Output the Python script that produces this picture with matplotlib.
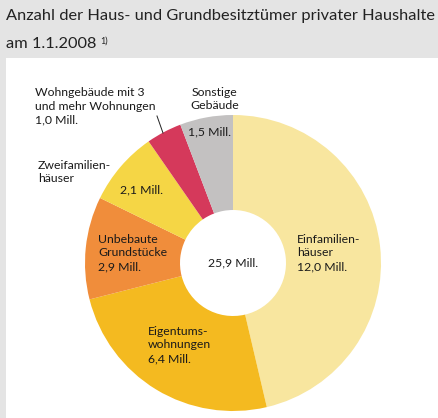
import matplotlib.pyplot as plt
from matplotlib.patches import Rectangle

# data (Mill.)
names = ['Einfamilien-\nhäuser', 'Eigentums-\nwohnungen', 'Unbebaute\nGrundstücke',
         'Zweifamilien-\nhäuser', 'Wohngebäude mit 3\nund mehr Wohnungen', 'Sonstige\nGebäude']
values = [12.0, 6.4, 2.9, 2.1, 1.0, 1.5]
value_labels = ['12,0 Mill.', '6,4 Mill.', '2,9 Mill.', '2,1 Mill.', '1,0 Mill.', '1,5 Mill.']
total_label = '25,9 Mill.'
colors = ['#f8e69f', '#f4ba20', '#f08d3b', '#f5d645', '#d5395b', '#c3c1c1']

plt.rcParams['font.family'] = ['Lato', 'DejaVu Sans']

W, H = 439, 418
fig = plt.figure(figsize=(W / 100, H / 100), dpi=100, facecolor='#e4e4e4')
ax = fig.add_axes([0, 0, 1, 1])

ax.add_patch(Rectangle((6, 58), W - 6, H - 58, facecolor='white', edgecolor='none', zorder=0))

# y axis is flipped, so counterclock in data space looks clockwise on screen
ax.pie(values, colors=colors, startangle=-90, counterclock=True,
       center=(233, 263), radius=148, frame=True,
       wedgeprops=dict(width=95, linewidth=0))
ax.set_xlim(0, W)
ax.set_ylim(H, 0)
ax.axis('off')

# title
ax.text(6, 20, 'Anzahl der Haus- und Grundbesitztümer privater Haushalte',
        fontsize=11.8, color='#222222', va='baseline')
am = ax.text(6, 48, 'am 1.1.2008', fontsize=11.8, color='#222222', va='baseline')
ax.annotate('1)', xy=(1, 0), xycoords=am, xytext=(3, 4), textcoords='offset points',
            fontsize=6.5, color='#222222', va='bottom', ha='left')

fs = 8.8
tc = '#1a1a1a'
ls = 1.3
ax.text(297, 253, names[0] + '\n' + value_labels[0], fontsize=fs, color=tc,
        va='center', ha='left', linespacing=ls)
ax.text(148, 345, names[1] + '\n' + value_labels[1], fontsize=fs, color=tc,
        va='center', ha='left', linespacing=ls)
ax.text(98, 253, names[2] + '\n' + value_labels[2], fontsize=fs, color=tc,
        va='center', ha='left', linespacing=ls)
ax.text(38, 172, names[3], fontsize=fs, color=tc, va='center', ha='left', linespacing=ls)
ax.text(120, 190, value_labels[3], fontsize=fs, color=tc, va='center', ha='left')
ax.text(35, 106, names[4] + '\n' + value_labels[4], fontsize=fs, color=tc,
        va='center', ha='left', linespacing=ls)
ax.text(215, 99, names[5], fontsize=fs, color=tc, va='center', ha='center', linespacing=ls)
ax.text(210, 132, value_labels[5], fontsize=fs, color=tc, va='center', ha='center')
ax.text(233, 263, total_label, fontsize=fs, color=tc, va='center', ha='center')

ax.plot([157, 163], [116, 133], color='#222222', linewidth=0.7)

fig.savefig('out.png', dpi=100, facecolor=fig.get_facecolor())
